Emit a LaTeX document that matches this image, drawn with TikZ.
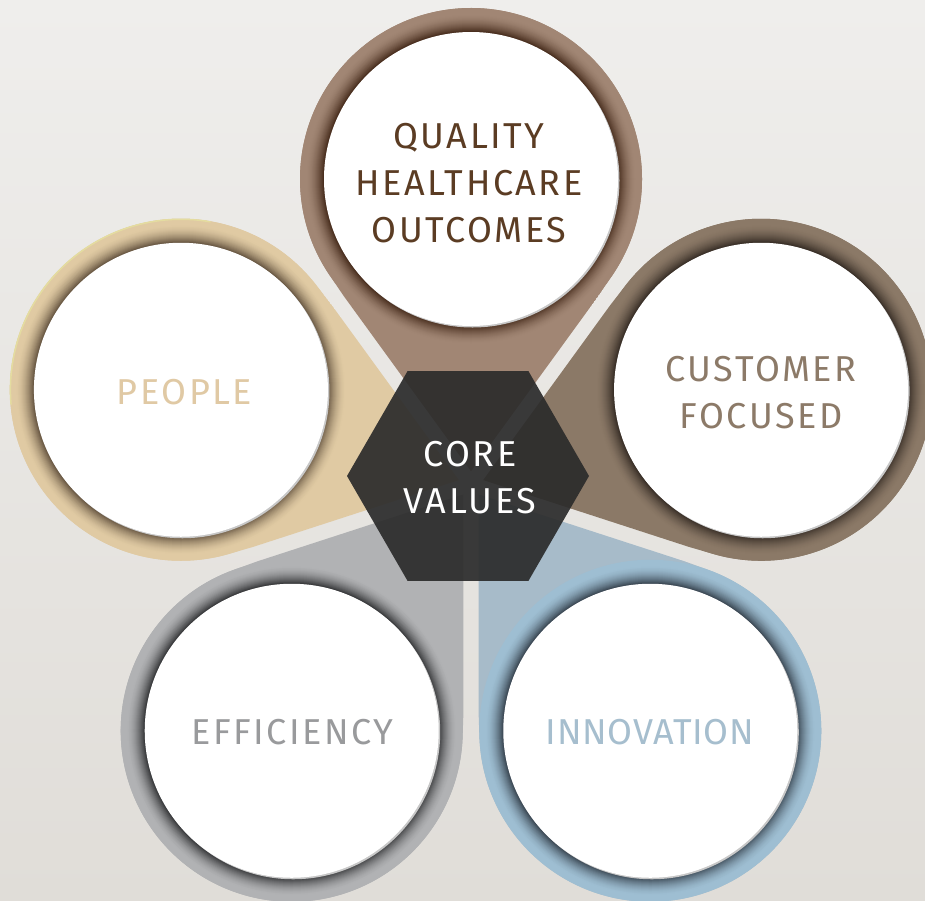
\documentclass[tikz,border=0pt]{standalone}
\usepackage{fontspec}
\setmainfont{Fira Sans}[LetterSpace=7]
\usetikzlibrary{calc}

\definecolor{bgtop}{HTML}{EFEEEC}
\definecolor{bgbot}{HTML}{E0DDD8}
\definecolor{hexcol}{HTML}{2B2B2B}
% petal colours: wedge, ring, inner shadow, label
\definecolor{qualw}{HTML}{A18674}
\definecolor{quals}{HTML}{4A2F1F}
\definecolor{qualt}{HTML}{5B3C23}
\definecolor{peopw}{HTML}{E0CAA3}
\definecolor{peops}{HTML}{6B5A45}
\definecolor{peopt}{HTML}{E0C9A4}
\definecolor{peoprim}{HTML}{E4DCA0}
\definecolor{custw}{HTML}{8B7967}
\definecolor{custs}{HTML}{3A3028}
\definecolor{custt}{HTML}{8C7A68}
\definecolor{effiw}{HTML}{B1B2B4}
\definecolor{effis}{HTML}{3A3B3D}
\definecolor{effit}{HTML}{999A9C}
\definecolor{innow}{HTML}{A7BBC9}
\definecolor{innor}{HTML}{9EBED2}
\definecolor{innos}{HTML}{3D4A56}
\definecolor{innot}{HTML}{A6BECE}

\tikzset{
  label text/.style={align=center, inner sep=0pt,
    font=\fontsize{36}{47}\selectfont},
}

% #1 direction from the hub, #2 wedge colour, #3 ring colour, #4 shadow colour
\newcommand{\petalshape}[4]{%
  \begin{scope}
    \clip ($(O)+(#1:12.8)$) -- +(#1+36:700) -- +(#1-36:700) -- cycle;
    \fill[#2] ($(O)+(#1:305)$) ++(#1+124.1:171)
      arc[start angle=#1+124.1, end angle=#1-124.1, radius=171] -- (O) -- cycle;
  \end{scope}
  \fill[#3] ($(O)+(#1:305)$) circle[radius=171];
  \foreach \r in {165,...,148}{%
    \pgfmathtruncatemacro\p{100*((166-\r)/18)^1.8}%
    \fill[#4!\p!#3] ($(O)+(#1:305)$) circle[radius=\r];
  }
  \fill[black!22] ($(O)+(#1:305)+(1.5,1.5)$) circle[radius=147];
  \fill[white] ($(O)+(#1:305)$) circle[radius=147];
}

\begin{document}
\begin{tikzpicture}[x=1pt,y=-1pt]
  \useasboundingbox (0,0) rectangle (925,900);
  \shade[top color=bgtop, bottom color=bgbot] (0,0) rectangle (925,900);

  \coordinate (O) at (471,484);
  \coordinate (H) at (468,476);

  % five petals around the hub
  \petalshape{-90}{qualw}{qualw}{quals}
  \petalshape{198}{peopw}{peopw}{peops}
  \draw[peoprim, line width=1.5] ($(O)+(198:305)$) ++(-80:170.5)
    arc[start angle=-80, end angle=-185, radius=170.5];
  \petalshape{-18}{custw}{custw}{custs}
  \petalshape{126}{effiw}{effiw}{effis}
  \petalshape{54}{innow}{innor}{innos}

  % central hexagon
  \fill[hexcol, fill opacity=0.92] (H) +(0:121) -- +(60:121) -- +(120:121)
    -- +(180:121) -- +(240:121) -- +(300:121) -- cycle;

  % labels
  \node[label text, text=white] (core) at (470,477.5) {CORE\\VALUES};
  \node[label text, text=qualt] (quality) at (469,183) {QUALITY\\HEALTHCARE\\OUTCOMES};
  \node[label text, text=peopt] (people) at (184.5,392) {PEOPLE};
  \node[label text, text=custt] (customer) at (761,392.5) {CUSTOMER\\FOCUSED};
  \node[label text, text=effit] (efficiency) at (292.5,732.5) {EFFICIENCY};
  \node[label text, text=innot] (innovation) at (650,732.5)
    {\addfontfeature{LetterSpace=2}INNOVATION};
\end{tikzpicture}
\end{document}
